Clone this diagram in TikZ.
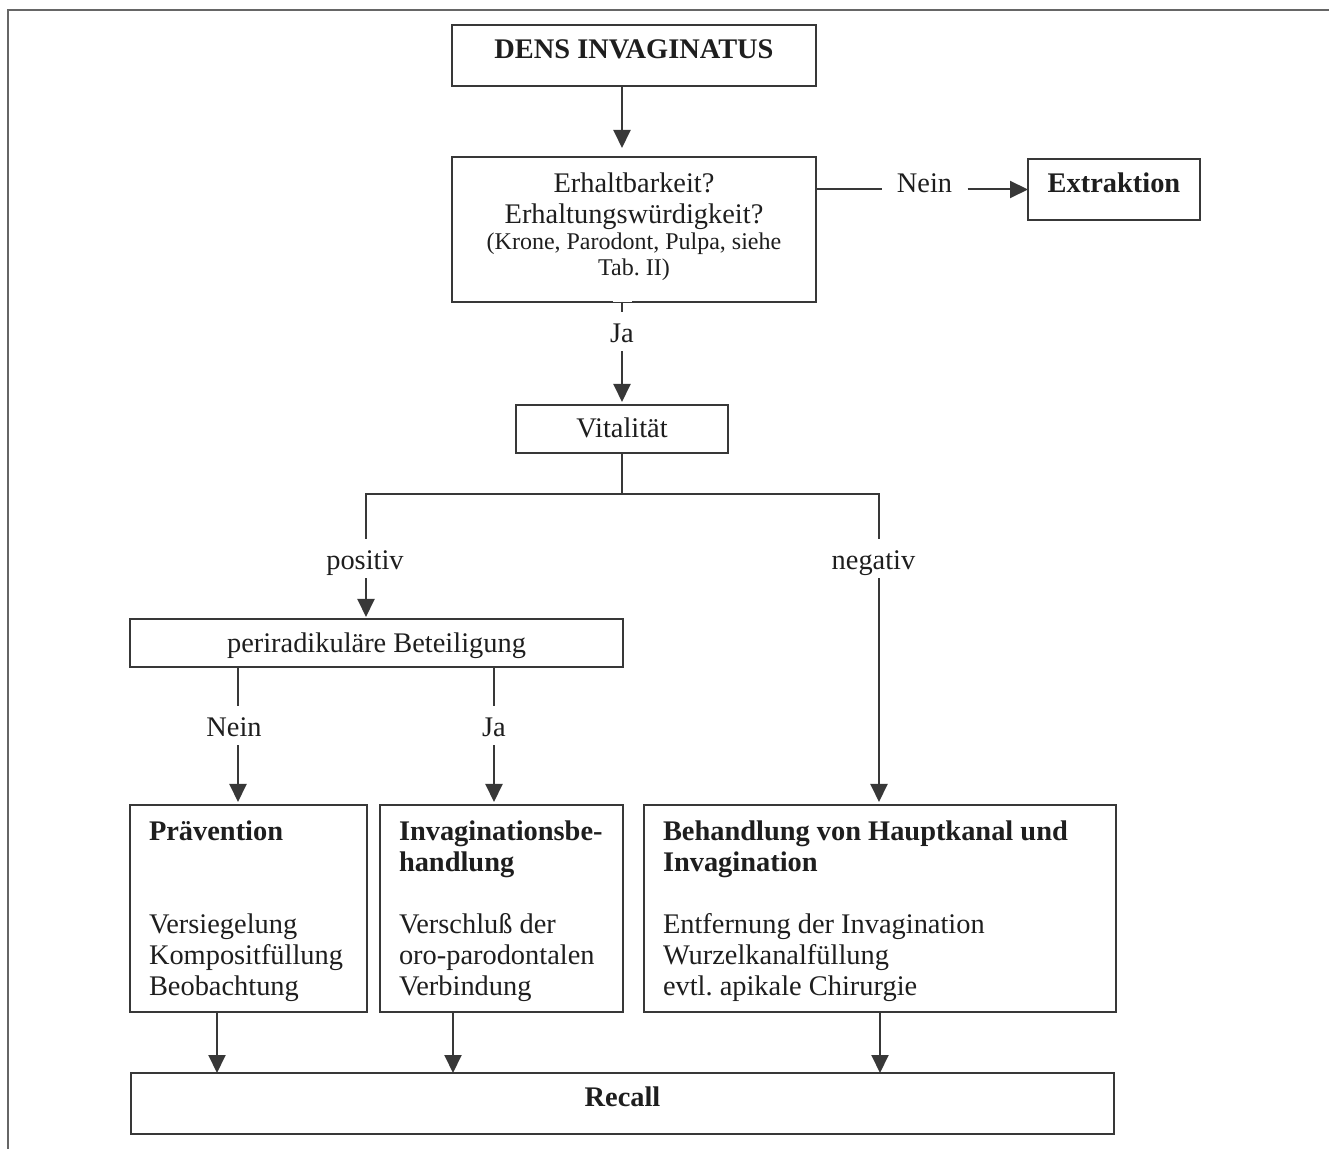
\documentclass[tikz,border=0pt]{standalone}
\usepackage{fontspec}
\setmainfont{Liberation Serif}
\usetikzlibrary{arrows.meta}
\definecolor{ink}{HTML}{1E1E1E}
\definecolor{edge}{HTML}{383838}
\definecolor{framec}{HTML}{666666}
% centred box text: width, height, first baseline from top, content
\newcommand\cbx[4]{\parbox[b][#2][t]{#1}{\centering\vspace*{\dimexpr#3-\ht\strutbox\relax}\strut#4\par}}
% left-aligned box text
\newcommand\lbx[4]{\parbox[b][#2][t]{#1}{\raggedright\leftskip=9.5pt\relax\vspace*{\dimexpr#3-\ht\strutbox\relax}\strut#4\par}}
\begin{document}
\begin{tikzpicture}[x=0.5pt,y=-0.5pt,
  font=\fontsize{14.2pt}{15.5pt}\selectfont, text=ink,
  box/.style={draw=edge, line width=1pt, inner sep=0pt, outer sep=0pt},
  lab/.style={inner xsep=7.5pt, inner ysep=0pt, text height=15.5pt, text depth=4pt, anchor=base},
  con/.style={draw=edge, line width=1pt},
  arr/.style={con, -{Triangle[length=9pt,width=8.5pt]}}]
\useasboundingbox (0,0) rectangle (1329,1149);
\draw[draw=framec, line width=0.9pt] (8,1149) -- (8,10) -- (1329,10);

% boxes
\node[box] (dens) at (634,55.5) {\cbx{182pt}{30.5pt}{17pt}{\textbf{DENS INVAGINATUS}}};
\node[box] (erh) at (634,229.5) {\parbox[b][72.5pt][t]{182pt}{\centering\vspace*{\dimexpr18pt-\ht\strutbox\relax}\strut Erhaltbarkeit?\\ Erhaltungswürdigkeit?\par{\fontsize{12pt}{12.8pt}\selectfont (Krone, Parodont, Pulpa, siehe\\ Tab.\ II)\par}}};
\node[box] (ext) at (1114,189.5) {\cbx{86pt}{30.5pt}{17pt}{\textbf{Extraktion}}};
\node[box] (vit) at (622,429) {\cbx{106pt}{24pt}{16.5pt}{Vitalität}};
\node[box] (peri) at (376.5,643) {\cbx{246.5pt}{24pt}{17pt}{periradikuläre Beteiligung}};
\node[box] (prae) at (248.5,908.5) {\lbx{118.5pt}{103.5pt}{17.5pt}{\textbf{Prävention}\\[2\baselineskip] Versiegelung\\ Kompositfüllung\\ Beobachtung}};
\node[box] (inv) at (501.5,908.5) {\lbx{121.5pt}{103.5pt}{17.5pt}{\textbf{Invaginationsbe-}\\ \textbf{handlung}\\[\baselineskip] Verschluß der\\ oro-parodontalen\\ Verbindung}};
\node[box] (beh) at (880,908.5) {\lbx{236pt}{103.5pt}{17.5pt}{\textbf{Behandlung von Hauptkanal und}\\ \textbf{Invagination}\\[\baselineskip] Entfernung der Invagination\\ Wurzelkanalfüllung\\ evtl.\ apikale Chirurgie}};
\node[box] (rec) at (622.5,1103.5) {\cbx{491.5pt}{30.5pt}{16.5pt}{\textbf{Recall}}};

% scan gap in the lower border of the second box
\fill[white] (613,297.5) rectangle (632,302.5);

% labels
\node[lab] (nein1) at (924.5,193) {Nein};
\node[lab] (ja1) at (622,343) {Ja};
\node[lab] (pos) at (365,570) {positiv};
\node[lab] (neg) at (873.5,570) {negativ};
\node[lab] (nein2) at (234,737) {Nein};
\node[lab] (ja2) at (494,737) {Ja};

% connectors
\draw[arr, shorten >=4.5pt] (dens.south -| vit.center) -- (erh.north -| vit.center);
\draw[con] (erh.east |- ext.west) -- (nein1.west |- ext.west);
\draw[arr] (nein1.east |- ext.west) -- (ext.west);
\draw[con] (erh.south -| ja1) -- (ja1.north);
\draw[arr, shorten >=1.5pt] (ja1.south) -- (vit.north);
\coordinate (br) at (622,494);
\coordinate (pt) at ([xshift=0.5pt]pos.north);
\coordinate (pb) at ([xshift=0.5pt]pos.south);
\coordinate (nt) at ([xshift=2.75pt]neg.north);
\coordinate (nb) at ([xshift=2.75pt]neg.south);
\coordinate (n2t) at ([xshift=2pt]nein2.north);
\coordinate (n2b) at ([xshift=2pt]nein2.south);
\draw[con] (vit.south) -- (br);
\draw[con] (pt) |- (br) -| (nt);
\draw[arr, shorten >=1pt] (pb) -- (pb |- peri.north);
\draw[arr, shorten >=1.5pt] (nb) -- (nb |- beh.north);
\draw[con] (peri.south -| n2t) -- (n2t);
\draw[arr, shorten >=1.5pt] (n2b) -- (n2b |- prae.north);
\draw[con] (peri.south -| ja2) -- (ja2.north);
\draw[arr, shorten >=1.5pt] (ja2.south) -- (ja2.south |- inv.north);
\coordinate (pa) at ([xshift=-15.75pt]prae.south);
\coordinate (ia) at ([xshift=-24.25pt]inv.south);
\draw[arr] (pa) -- (pa |- rec.north);
\draw[arr] (ia) -- (ia |- rec.north);
\draw[arr] (beh.south) -- (beh.south |- rec.north);
\end{tikzpicture}
\end{document}
